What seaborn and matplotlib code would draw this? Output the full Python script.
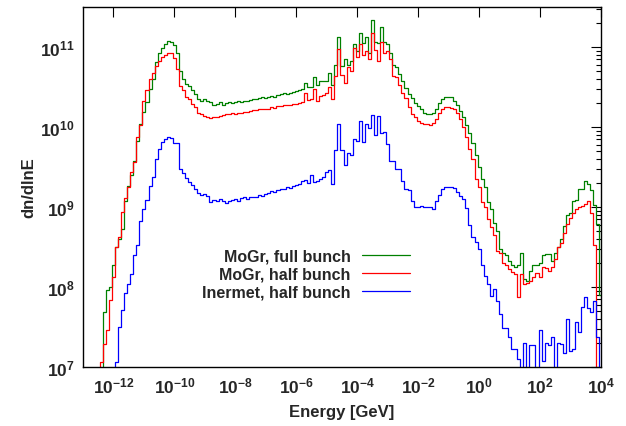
import numpy as np
import pandas as pd
import matplotlib
matplotlib.use("Agg")
import matplotlib.pyplot as plt
import seaborn as sns
from matplotlib.ticker import LogLocator, NullLocator, FixedLocator, LogFormatterSciNotation, NullFormatter

# log10(dn/dlnE) per bin; bins are 0.1 decade wide, centred at 10^(-13 + 0.1*k)
log_full = [
    6.0, 6.0, 6.0, 6.0, 6.0, 6.0, 6.9, 7.69, 7.96, 8.00,
    8.27, 8.50, 8.60, 8.73, 9.08, 9.26, 9.40, 9.58, 9.83, 10.04,
    10.19, 10.31, 10.48, 10.60, 10.81, 10.92, 10.99, 11.04, 11.08, 11.06,
    11.02, 10.93, 10.70, 10.60, 10.54, 10.51, 10.46, 10.41, 10.35, 10.32,
    10.35, 10.33, 10.31, 10.28, 10.29, 10.31, 10.28, 10.30, 10.31, 10.30,
    10.31, 10.32, 10.31, 10.33, 10.32, 10.34, 10.35, 10.35, 10.36, 10.37,
    10.36, 10.38, 10.39, 10.38, 10.40, 10.41, 10.42, 10.41, 10.43, 10.44,
    10.45, 10.46, 10.47, 10.55, 10.50, 10.50, 10.62, 10.53, 10.57, 10.58,
    10.58, 10.68, 10.52, 10.78, 11.12, 10.76, 10.85, 10.78, 10.82, 11.04,
    10.95, 11.18, 11.05, 11.12, 10.92, 11.34, 11.06, 11.05, 11.25, 11.06,
    11.04, 10.93, 10.78, 10.75, 10.66, 10.58, 10.49, 10.41, 10.36, 10.30,
    10.26, 10.22, 10.18, 10.16, 10.16, 10.17, 10.23, 10.30, 10.35, 10.38,
    10.38, 10.37, 10.33, 10.27, 10.20, 10.12, 10.02, 9.92, 9.80, 9.65,
    9.50, 9.35, 9.25, 9.06, 8.97, 8.80, 8.70, 8.48, 8.42, 8.40,
    8.32, 8.27, 8.25, 8.27, 8.42, 8.10, 8.08, 8.20, 8.27, 8.28,
    8.30, 8.40, 8.41, 8.41, 8.33, 8.42, 8.50, 8.60, 8.76, 8.90,
    8.92, 9.08, 9.09, 9.23, 9.22, 9.33, 9.29, 9.21, 9.02, 8.79,
    7.90,
]
log_half = [
    6.0, 6.0, 6.0, 6.0, 6.0, 6.0, 7.06, 7.29, 7.46, 7.84,
    8.13, 8.50, 8.63, 8.94, 9.11, 9.25, 9.44, 9.56, 9.88, 10.02,
    10.33, 10.46, 10.60, 10.67, 10.76, 10.83, 10.87, 10.90, 10.92, 10.92,
    10.86, 10.73, 10.51, 10.46, 10.38, 10.35, 10.29, 10.25, 10.18, 10.16,
    10.14, 10.12, 10.11, 10.13, 10.12, 10.14, 10.15, 10.16, 10.16, 10.17,
    10.16, 10.18, 10.18, 10.19, 10.19, 10.20, 10.21, 10.21, 10.22, 10.22,
    10.23, 10.23, 10.25, 10.24, 10.26, 10.26, 10.27, 10.27, 10.28, 10.29,
    10.29, 10.30, 10.31, 10.42, 10.34, 10.35, 10.48, 10.33, 10.39, 10.40,
    10.43, 10.50, 10.35, 10.64, 10.98, 10.65, 10.55, 10.75, 10.70, 10.99,
    10.88, 11.04, 10.90, 10.95, 10.85, 11.18, 10.96, 10.83, 11.06, 10.93,
    10.95, 10.85, 10.64, 10.62, 10.52, 10.42, 10.36, 10.25, 10.16, 10.12,
    10.08, 10.05, 10.04, 10.04, 10.03, 10.05, 10.10, 10.18, 10.23, 10.25,
    10.25, 10.24, 10.22, 10.18, 10.10, 10.00, 9.88, 9.72, 9.60, 9.35,
    9.25, 9.06, 9.00, 8.85, 8.75, 8.65, 8.45, 8.42, 8.30, 8.28,
    8.22, 8.19, 8.16, 7.87, 8.16, 8.04, 8.05, 8.07, 8.12, 8.17,
    8.13, 8.25, 8.24, 8.20, 8.25, 8.35, 8.50, 8.55, 8.67, 8.79,
    8.86, 8.93, 8.98, 9.00, 9.01, 9.04, 9.07, 8.93, 8.52, 6.0,
    6.0,
]
log_inermet = [
    6.0, 6.0, 6.0, 6.0, 6.0, 6.0, 6.0, 6.0, 6.0, 6.0,
    6.0, 7.06, 7.50, 7.71, 7.92, 8.04, 8.16, 8.40, 8.53, 8.83,
    8.98, 9.09, 9.26, 9.38, 9.60, 9.73, 9.81, 9.85, 9.88, 9.86,
    9.80, 9.80, 9.48, 9.42, 9.36, 9.31, 9.27, 9.22, 9.18, 9.15,
    9.16, 9.14, 9.06, 9.09, 9.08, 9.10, 9.07, 9.05, 9.08, 9.09,
    9.10, 9.08, 9.11, 9.12, 9.10, 9.13, 9.13, 9.13, 9.15, 9.14,
    9.16, 9.18, 9.20, 9.19, 9.21, 9.22, 9.23, 9.25, 9.24, 9.26,
    9.28, 9.29, 9.33, 9.34, 9.30, 9.40, 9.31, 9.33, 9.35, 9.37,
    9.44, 9.46, 9.29, 9.71, 10.04, 9.71, 9.52, 9.67, 9.65, 9.85,
    9.82, 10.08, 9.81, 10.04, 9.99, 10.15, 9.90, 10.14, 9.92, 9.94,
    9.79, 9.58, 9.57, 9.48, 9.48, 9.33, 9.22, 9.21, 9.08, 9.00,
    9.00, 9.01, 9.00, 9.00, 9.00, 8.98, 9.08, 9.15, 9.23, 9.25,
    9.25, 9.25, 9.24, 9.19, 9.14, 9.10, 8.99, 8.77, 8.62, 8.56,
    8.48, 8.27, 8.14, 8.04, 7.89, 7.98, 7.83, 7.66, 7.49, 7.49,
    7.37, 7.23, 7.23, 7.10, 6.50, 7.30, 6.50, 7.28, 7.28, 6.80,
    7.46, 7.08, 7.30, 7.28, 7.38, 6.80, 7.30, 7.29, 7.18, 7.60,
    7.20, 7.22, 7.56, 7.44, 7.75, 7.87, 7.74, 7.69, 7.82, 7.38,
    6.50,
]
series_labels = ["MoGr, full bunch", "MoGr, half bunch", "Inermet, half bunch"]
series_colors = ["#008000", "#ff0000", "#0000ff"]
x_tick_values = [1e-12, 1e-10, 1e-8, 1e-6, 1e-4, 1e-2, 1e0, 1e2, 1e4]

n_bins = len(log_full)
edges = 10 ** (-13.05 + 0.1 * np.arange(n_bins + 1))

frames = []
for lab, lv in zip(series_labels, [log_full, log_half, log_inermet]):
    v = 10 ** np.asarray(lv, dtype=float)
    frames.append(pd.DataFrame({"E": edges, "dn": np.append(v, v[-1]), "series": lab}))
df = pd.concat(frames, ignore_index=True)

sns.set_style("white")
plt.rcParams.update({
    "font.family": ["Liberation Sans", "DejaVu Sans"],
    "font.weight": "bold",
    "axes.labelweight": "bold",
    "mathtext.fontset": "custom",
    "mathtext.rm": "Liberation Sans:bold",
    "mathtext.bf": "Liberation Sans:bold",
    "mathtext.it": "Liberation Sans:bold:italic",
    "mathtext.sf": "Liberation Sans:bold",
    "mathtext.default": "rm",
    "axes.edgecolor": "black",
    "axes.linewidth": 1.0,
})

fig = plt.figure(figsize=(6.26, 4.27), dpi=100)
ax = fig.add_axes([83 / 626, 1 - 368 / 427, (601 - 83) / 626, (368 - 8) / 427])

sns.lineplot(data=df, x="E", y="dn", hue="series", hue_order=series_labels,
             palette=dict(zip(series_labels, series_colors)), estimator=None,
             sort=False, drawstyle="steps-post", linewidth=0.9, ax=ax, legend=True)

ax.set_xscale("log")
ax.set_yscale("log")
ax.set_xlim(1e-13, 1e4)
ax.set_ylim(1e7, 10 ** 11.5)

ax.xaxis.set_major_locator(FixedLocator(x_tick_values))
ax.xaxis.set_major_formatter(LogFormatterSciNotation())
ax.xaxis.set_minor_locator(NullLocator())
ax.yaxis.set_major_locator(LogLocator(base=10, numticks=20))
ax.yaxis.set_minor_locator(LogLocator(base=10, subs=np.arange(2, 10), numticks=20))
ax.yaxis.set_minor_formatter(NullFormatter())

ax.tick_params(which="both", direction="in", top=True, right=True, color="black", width=0.8)
ax.tick_params(which="major", length=7, labelsize=12.5, pad=6)
ax.tick_params(which="minor", length=3.5)

ax.set_xlabel("Energy [GeV]", fontsize=12, fontweight="bold", labelpad=6)
ax.set_ylabel("dn/dlnE", fontsize=12, fontweight="bold", labelpad=3)

handles, labels = ax.get_legend_handles_labels()
ax.legend(handles, labels, loc="upper right", bbox_to_anchor=(0.631, 0.330),
          frameon=False, markerfirst=False, handlelength=3.0, handletextpad=0.7,
          labelspacing=0.2, borderaxespad=0, borderpad=0,
          prop={"weight": "bold", "size": 11.5})

for s in ax.spines.values():
    s.set_visible(True)
    s.set_color("black")

fig.savefig("out.png", dpi=100, facecolor="white")
